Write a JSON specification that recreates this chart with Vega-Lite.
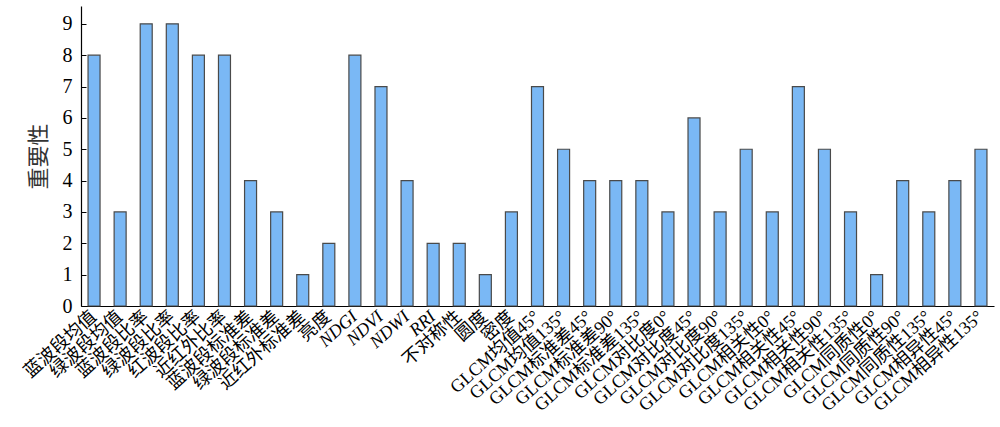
{
  "$schema": "https://vega.github.io/schema/vega-lite/v6.json",
  "autosize": "none",
  "width": 913,
  "height": 300,
  "padding": {"left": 81, "top": 6, "right": 6, "bottom": 121},
  "background": "white",
  "data": {"values": [
    {"f": "蓝波段均值", "v": 8},
    {"f": "绿波段均值", "v": 3},
    {"f": "蓝波段比率", "v": 9},
    {"f": "绿波段比率", "v": 9},
    {"f": "红波段比率", "v": 8},
    {"f": "近红外比率", "v": 8},
    {"f": "蓝波段标准差", "v": 4},
    {"f": "绿波段标准差", "v": 3},
    {"f": "近红外标准差", "v": 1},
    {"f": "亮度", "v": 2},
    {"f": "NDGI", "v": 8},
    {"f": "NDVI", "v": 7},
    {"f": "NDWI", "v": 4},
    {"f": "RRI", "v": 2},
    {"f": "不对称性", "v": 2},
    {"f": "圆度", "v": 1},
    {"f": "密度", "v": 3},
    {"f": "GLCM均值45°", "v": 7},
    {"f": "GLCM均值135°", "v": 5},
    {"f": "GLCM标准差45°", "v": 4},
    {"f": "GLCM标准差90°", "v": 4},
    {"f": "GLCM标准差135°", "v": 4},
    {"f": "GLCM对比度0°", "v": 3},
    {"f": "GLCM对比度45°", "v": 6},
    {"f": "GLCM对比度90°", "v": 3},
    {"f": "GLCM对比度135°", "v": 5},
    {"f": "GLCM相关性0°", "v": 3},
    {"f": "GLCM相关性45°", "v": 7},
    {"f": "GLCM相关性90°", "v": 5},
    {"f": "GLCM相关性135°", "v": 3},
    {"f": "GLCM同质性0°", "v": 1},
    {"f": "GLCM同质性90°", "v": 4},
    {"f": "GLCM同质性135°", "v": 3},
    {"f": "GLCM相异性45°", "v": 4},
    {"f": "GLCM相异性135°", "v": 5}
  ]},
  "mark": {"type": "bar", "fill": "#7ab8f5", "stroke": "#4a4a4a", "strokeWidth": 1.2},
  "encoding": {
    "x": {
      "field": "f", "type": "nominal", "sort": null,
      "scale": {"paddingInner": 0.54, "paddingOuter": 0.27},
      "axis": {
        "title": null,
        "labelAngle": -42,
        "labelAlign": "right",
        "labelBaseline": "middle",
        "labelFont": "Liberation Serif, Noto Sans CJK SC",
        "labelFontSize": 18,
        "labelColor": "black",
        "labelFontStyle": {"condition": {"test": "indexof(['NDGI','NDVI','NDWI','RRI'], datum.value) >= 0", "value": "italic"}, "value": "normal"},
        "tickSize": -4,
        "labelPadding": 12,
        "tickColor": "black",
        "domainColor": "black",
        "domainWidth": 1.2,
        "labelOverlap": false,
        "labelLimit": 300
      }
    },
    "y": {
      "field": "v", "type": "quantitative",
      "scale": {"domain": [0, 9.57], "nice": false},
      "axis": {
        "title": "重要性",
        "titleFont": "Noto Sans CJK SC",
        "titleFontSize": 22,
        "titleFontWeight": "normal",
        "titleColor": "#333",
        "titlePadding": 12,
        "values": [0,1,2,3,4,5,6,7,8,9],
        "grid": false,
        "labelFont": "Liberation Serif",
        "labelFontSize": 20,
        "labelColor": "black",
        "tickSize": -5,
        "labelPadding": 14,
        "tickColor": "black",
        "domainColor": "black",
        "domainWidth": 1.2
      }
    }
  },
  "config": {"view": {"stroke": null}}
}
